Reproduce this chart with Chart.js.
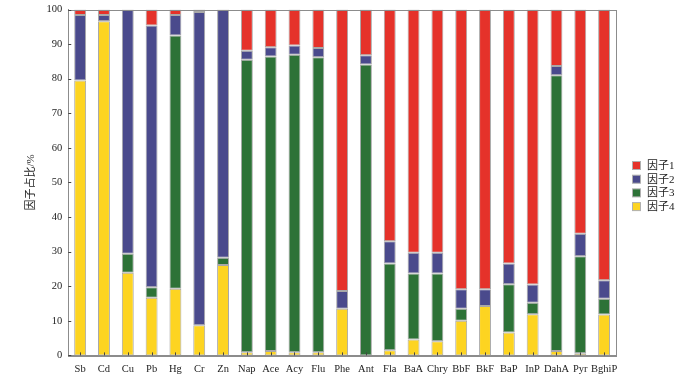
<!DOCTYPE html>
<html>
<head>
<meta charset="utf-8">
<script src="https://cdn.jsdelivr.net/npm/chart.js@4/dist/chart.umd.min.js"></script>
<style>
  html, body { margin: 0; padding: 0; background: #fff; }
  #wrap { width: 700px; height: 379px; }
</style>
</head>
<body>
<div id="wrap"><canvas id="grafico"></canvas></div>
<script>
const categorias = ["Sb","Cd","Cu","Pb","Hg","Cr","Zn","Nap","Ace","Acy","Flu","Phe","Ant","Fla","BaA","Chry","BbF","BkF","BaP","InP","DahA","Pyr","BghiP"];
// aporte de cada factor (%) por compuesto; null = sin aporte
const factor4 = [79.5, 96.6, 23.9, 16.7, 19.3, 8.7, 26.1, 0.9, 1.3, 0.9, 0.9, 13.5, null, 1.5, 4.6, 4.1, 10.0, 14.3, 6.6, 11.9, 1.3, 0.6, 11.8];
const factor3 = [null, null, 5.5, 3.0, 73.2, null, 2.1, 84.6, 85.1, 86.0, 85.3, null, 84.1, 25.1, 19.1, 19.6, 3.5, null, 14.0, 3.3, 79.7, 28.1, 4.6];
const factor2 = [18.9, 1.8, 70.6, 75.7, 5.9, 90.6, 71.8, 2.6, 2.7, 2.7, 2.7, 5.1, 2.7, 6.4, 6.0, 6.0, 5.6, 4.8, 6.0, 5.3, 2.7, 6.5, 5.3];
const factor1 = [1.6, 1.6, null, 4.6, 1.6, 0.7, null, 11.9, 10.9, 10.4, 11.1, 81.4, 13.2, 67.0, 70.3, 70.3, 80.9, 80.9, 73.4, 79.5, 16.3, 64.8, 78.3];
const ticksY = [0,10,20,30,40,50,60,70,80,90,100];

const fuente = "'Liberation Serif', 'Times New Roman', 'Noto Sans CJK SC', serif";

// marco, marcas hacia adentro y leyenda a la derecha
const marco = {
  id: 'marco',
  afterDraw(chart) {
    const { ctx, chartArea: a, scales } = chart;
    ctx.save();
    ctx.strokeStyle = '#8c8c8c';
    ctx.lineWidth = 1;
    ctx.strokeRect(Math.round(a.left) + 0.5, Math.round(a.top) + 0.5, Math.round(a.right - a.left), Math.round(a.bottom - a.top));
    ctx.strokeStyle = '#444';
    categorias.forEach((c, i) => {
      const x = Math.round(scales.x.getPixelForValue(i)) + 0.5;
      ctx.beginPath();
      ctx.moveTo(x, a.bottom);
      ctx.lineTo(x, a.bottom - 3);
      ctx.stroke();
    });
    ticksY.forEach(v => {
      const y = Math.round(scales.y.getPixelForValue(v)) + 0.5;
      ctx.beginPath();
      ctx.moveTo(a.left, y);
      ctx.lineTo(a.left + 3, y);
      ctx.stroke();
    });

    // leyenda
    const sets = chart.data.datasets.slice().reverse();
    ctx.font = "11px " + fuente;
    ctx.textBaseline = 'middle';
    sets.forEach((ds, i) => {
      const y = 161.5 + i * 13.7;
      ctx.fillStyle = ds.backgroundColor;
      ctx.fillRect(632.5, y, 8, 8);
      ctx.strokeStyle = '#b0b0b0';
      ctx.strokeRect(632.5, y, 8, 8);
      ctx.fillStyle = '#222';
      ctx.fillText(ds.label, 647, y + 4.5);
    });
    ctx.restore();
  }
};

const dataset = (label, data, color) => ({
  label, data,
  backgroundColor: color,
  borderColor: '#a8a8a8',
  borderWidth: 1,
  borderSkipped: false,
  barPercentage: 0.5,
  categoryPercentage: 1
});

new Chart(document.getElementById('grafico'), {
  type: 'bar',
  data: {
    labels: categorias,
    datasets: [
      dataset('因子4', factor4, '#fdd421'),
      dataset('因子3', factor3, '#2d7237'),
      dataset('因子2', factor2, '#4a4a8c'),
      dataset('因子1', factor1, '#e5322a')
    ]
  },
  options: {
    responsive: true,
    maintainAspectRatio: false,
    animation: false,
    layout: { padding: { top: 9.5, right: 84, left: 25.5, bottom: -4 } },
    plugins: {
      legend: { display: false },
      tooltip: { enabled: false }
    },
    scales: {
      x: {
        stacked: true,
        grid: { display: false, drawTicks: false },
        border: { color: '#8c8c8c' },
        ticks: { color: '#222', font: { family: fuente, size: 10.5 }, maxRotation: 0, autoSkip: false, padding: 7.5 }
      },
      y: {
        stacked: true,
        min: 0, max: 100,
        afterBuildTicks: s => { s.ticks = ticksY.map(v => ({ value: v })); },
        grid: { display: false, drawTicks: false },
        border: { color: '#8c8c8c' },
        ticks: { color: '#222', font: { family: fuente, size: 10.5, lineHeight: 0.5 }, padding: 6 },
        title: { display: true, text: '因子占比/%', color: '#222', font: { family: fuente, size: 11, lineHeight: 1 }, padding: { top: 0, bottom: 4 } }
      }
    }
  },
  plugins: [marco]
});
</script>
</body>
</html>
